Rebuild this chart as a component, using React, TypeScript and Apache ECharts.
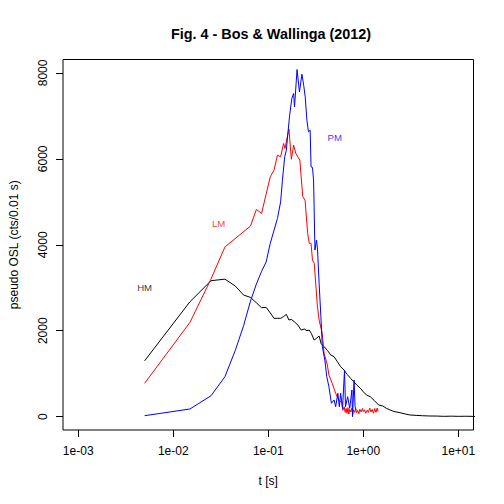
import React, { useEffect, useRef } from "react";
import * as echarts from "echarts";

const titleText = "Fig. 4 - Bos & Wallinga (2012)";
const xName = "t [s]";
const yName = "pseudo OSL (cts/0.01 s)";

const xTickExps = [-3, -2, -1, 0, 1];
const xTickLabels = ["1e-03", "1e-02", "1e-01", "1e+00", "1e+01"];
const yTicks = [0, 2000, 4000, 6000, 8000];

const hmT = [0.005, 0.015, 0.025, 0.035, 0.045, 0.055, 0.065, 0.075, 0.085, 0.095, 0.105, 0.115, 0.125, 0.135, 0.145, 0.155, 0.165, 0.175, 0.19, 0.205, 0.222, 0.24, 0.255, 0.27, 0.285, 0.304, 0.32, 0.343, 0.36, 0.387, 0.42, 0.455, 0.493, 0.53, 0.578, 0.626, 0.68, 0.735, 0.794, 0.86, 0.934, 1.0, 1.08, 1.186, 1.3, 1.45, 1.6, 1.75, 1.914, 2.1, 2.432, 2.8, 3.09, 3.6, 4.2, 4.99, 6, 7, 8.5, 10, 12, 15];
const hmV = [1300, 2675, 3165, 3200, 3040, 2830, 2776, 2650, 2535, 2544, 2415, 2288, 2290, 2288, 2330, 2381, 2249, 2265, 2200, 2133, 2016, 2040, 2000, 2016, 1930, 1784, 1820, 1877, 1700, 1628, 1540, 1435, 1395, 1290, 1163, 1086, 980, 893, 814, 730, 660, 580, 505, 465, 380, 272, 250, 195, 156, 120, 93, 60, 40, 30, 22, 16, 14, 8, 12, 8, 10, 6];

const lmT = [0.005, 0.015, 0.025, 0.035, 0.065, 0.075, 0.085, 0.105, 0.115, 0.125, 0.135, 0.145, 0.15, 0.165, 0.175, 0.185, 0.195, 0.205, 0.215, 0.222, 0.231, 0.244, 0.26, 0.27, 0.282, 0.292, 0.305, 0.328, 0.343, 0.37, 0.387, 0.419, 0.435, 0.471, 0.512, 0.553, 0.598, 0.61, 0.63, 0.645, 0.66, 0.675, 0.69, 0.705, 0.72, 0.74, 0.76, 0.775, 0.79, 0.81, 0.83, 0.85, 0.87, 0.9, 0.92, 0.95, 0.98, 1.0, 1.03, 1.06, 1.1, 1.13, 1.17, 1.2, 1.24, 1.28, 1.32, 1.36, 1.4, 1.43];
const lmV = [777, 2195, 3205, 3950, 4435, 4823, 4730, 5581, 5737, 6086, 6047, 6358, 6242, 6695, 5990, 6319, 6126, 6047, 5970, 5580, 5116, 5040, 4265, 4033, 4033, 3644, 3567, 2600, 2249, 1940, 1474, 1202, 970, 777, 544, 388, 312, 150, 230, 100, 190, 80, 210, 60, 170, 110, 200, 50, 160, 100, 180, 90, 150, 70, 170, 110, 190, 120, 160, 80, 150, 100, 200, 110, 170, 80, 190, 100, 200, 120];

const pmT = [0.005, 0.015, 0.025, 0.035, 0.045, 0.055, 0.065, 0.075, 0.085, 0.095, 0.105, 0.125, 0.135, 0.141, 0.149, 0.155, 0.161, 0.168, 0.177, 0.185, 0.189, 0.201, 0.213, 0.226, 0.236, 0.245, 0.255, 0.265, 0.276, 0.282, 0.292, 0.3, 0.31, 0.322, 0.33, 0.343, 0.358, 0.371, 0.394, 0.413, 0.435, 0.462, 0.493, 0.512, 0.54, 0.56, 0.578, 0.605, 0.635, 0.65, 0.685, 0.72, 0.76, 0.77, 0.8, 0.82, 0.84];
const pmV = [23, 179, 488, 930, 1544, 2117, 2690, 3086, 3381, 3600, 4033, 4614, 5000, 5505, 6047, 6202, 6600, 7016, 7405, 7521, 7209, 8079, 7558, 7970, 7714, 7442, 6900, 6628, 6667, 5814, 5800, 5505, 3877, 4109, 3900, 3102, 2326, 1628, 1319, 930, 698, 312, 388, 233, 544, 233, 544, 195, 1086, 233, 465, 195, 621, 0, 853, 233, 156];

const labelNames = ["HM", "LM", "PM"];
const labelT = [0.005, 0.03, 0.5];
const labelV = [3000, 4500, 6500];
const colors = ["#000000", "#FF0000", "#0000FF"];

const FONT = "Liberation Sans, Arial, Helvetica, sans-serif";

const toData = (ts: number[], vs: number[]) => ts.map((t, i) => [Math.log10(t), vs[i]]);

export default function App() {
  const ref = useRef<HTMLDivElement>(null);
  useEffect(() => {
    if (!ref.current) return;
    const chart = echarts.init(ref.current, undefined, { renderer: "svg" });
    const lineSeries = [
      [hmT, hmV],
      [lmT, lmV],
      [pmT, pmV],
    ].map(([ts, vs], i) => ({
      type: "line",
      name: labelNames[i],
      data: toData(ts as number[], vs as number[]),
      showSymbol: false,
      symbol: "none",
      lineStyle: { color: colors[i], width: 1 },
      clip: true,
      silent: true,
    }));
    chart.setOption({
      animation: false,
      backgroundColor: "#ffffff",
      title: {
        text: titleText,
        left: 266,
        top: 22,
        textAlign: "center",
        textStyle: { fontFamily: FONT, fontSize: 14.4, fontWeight: "bold", color: "#000" },
      },
      grid: {
        left: 59,
        right: 30.5,
        top: 59.5,
        bottom: 74,
        show: true,
        borderColor: "#000",
        borderWidth: 1,
        backgroundColor: "transparent",
      },
      xAxis: {
        type: "value",
        min: -3.16,
        max: 1.16,
        name: xName,
        nameLocation: "middle",
        nameGap: 45,
        nameTextStyle: { fontFamily: FONT, fontSize: 12, color: "#000" },
        axisLine: { show: false, onZero: false },
        splitLine: { show: false },
        axisTick: {
          show: true,
          inside: false,
          length: 7,
          customValues: xTickExps,
          lineStyle: { color: "#000", width: 1 },
        },
        axisLabel: {
          show: true,
          margin: 15,
          customValues: xTickExps,
          fontFamily: FONT,
          fontSize: 12,
          color: "#000",
          formatter: (v: number) => xTickLabels[xTickExps.indexOf(Math.round(v))] ?? "",
        },
      },
      yAxis: {
        type: "value",
        min: -310,
        max: 8312,
        name: yName,
        nameLocation: "middle",
        nameGap: 43,
        nameTextStyle: { fontFamily: FONT, fontSize: 12, color: "#000" },
        axisLine: { show: false, onZero: false },
        splitLine: { show: false },
        axisTick: {
          show: true,
          inside: false,
          length: 7,
          customValues: yTicks,
          lineStyle: { color: "#000", width: 1 },
        },
        axisLabel: {
          show: true,
          rotate: 90,
          margin: 14,
          customValues: yTicks,
          fontFamily: FONT,
          fontSize: 12,
          color: "#000",
          formatter: (v: number) => String(Math.round(v)),
        },
      },
      series: [
        ...lineSeries,
        {
          type: "scatter",
          symbolSize: 0,
          silent: true,
          itemStyle: { color: "transparent" },
          data: labelNames.map((n, i) => ({
            name: n,
            value: [Math.log10(labelT[i]), labelV[i]],
            label: {
              show: true,
              position: "inside",
              formatter: n,
              color: colors[i],
              textBorderWidth: 0,
              textBorderColor: "transparent",
              fontFamily: FONT,
              fontSize: 9.6,
            },
          })),
        },
      ],
    });
    return () => chart.dispose();
  }, []);
  return (
    <div
      ref={ref}
      style={{ position: "fixed", left: 0, top: 0, width: 504, height: 504, background: "#fff" }}
    />
  );
}
